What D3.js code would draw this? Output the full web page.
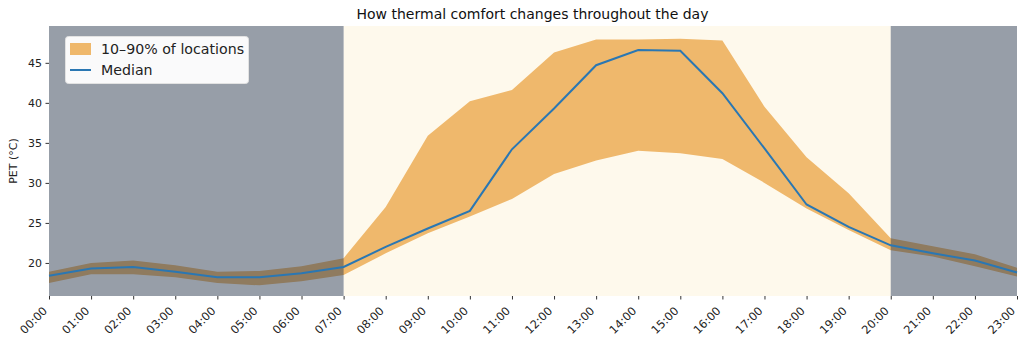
<!DOCTYPE html>
<html><head><meta charset="utf-8">
<script src="https://cdn.jsdelivr.net/npm/d3@7"></script>
<style>body{margin:0;background:#fff;} svg{display:block;font-family:"DejaVu Sans",sans-serif;}</style>
</head><body>
<svg id="c" width="1024" height="346"></svg>
<script>
const hours = ["00:00","01:00","02:00","03:00","04:00","05:00","06:00","07:00","08:00","09:00","10:00","11:00","12:00","13:00","14:00","15:00","16:00","17:00","18:00","19:00","20:00","21:00","22:00","23:00"];
const median = [18.4,19.3,19.5,18.9,18.2,18.2,18.7,19.5,22.0,24.3,26.5,34.2,39.3,44.7,46.6,46.5,41.2,34.3,27.3,24.5,22.2,21.2,20.3,18.8];
const p90 = [18.9,20.0,20.3,19.7,18.9,19.0,19.6,20.6,27.0,35.9,40.2,41.6,46.3,47.9,47.9,48.0,47.8,39.5,33.2,28.7,23.1,22.1,21.1,19.4];
const p10 = [17.5,18.6,18.6,18.2,17.5,17.2,17.7,18.5,21.2,23.7,25.8,28.0,31.1,32.8,34.0,33.7,33.0,30.0,26.8,24.1,21.6,20.8,19.6,18.3];
const yTicks = [20,25,30,35,40,45];
const dayStart = 7, dayEnd = 20;
const title = "How thermal comfort changes throughout the day";
const yLabel = "PET (°C)";
const legendLabels = ["10–90% of locations","Median"];

const svg = d3.select("#c");
const L = 49, R = 1017, T = 26, B = 296;
const x = d3.scaleLinear().domain([0, 23]).range([L, R]);
const y = d3.scaleLinear().domain([15.87, 49.6]).range([B, T]);
const idx = d3.range(hours.length);

// day background
svg.append("rect").attr("x", x(dayStart)).attr("y", T).attr("width", x(dayEnd)-x(dayStart)).attr("height", B-T).attr("fill", "#fef9ec");

// band
svg.append("path").datum(idx)
  .attr("d", d3.area().x(i => x(i)).y0(i => y(p10[i])).y1(i => y(p90[i])))
  .attr("fill", "#efb86c");

// night
svg.append("rect").attr("x", x(0)).attr("y", T).attr("width", x(dayStart)-x(0)).attr("height", B-T).attr("fill", "#2f3d52").attr("fill-opacity", 0.5);
svg.append("rect").attr("x", x(dayEnd)).attr("y", T).attr("width", x(23)-x(dayEnd)).attr("height", B-T).attr("fill", "#2f3d52").attr("fill-opacity", 0.5);

// median line
svg.append("path").datum(idx)
  .attr("d", d3.line().x(i => x(i)).y(i => y(median[i])))
  .attr("fill", "none").attr("stroke", "#2a77b3").attr("stroke-width", 2);

// axes
const xAxis = d3.axisBottom(x).tickValues(idx).tickFormat(i => hours[i]).tickSize(3.5).tickPadding(3);
const gx = svg.append("g").attr("transform", `translate(0,${B})`).call(xAxis);
gx.select(".domain").remove();
gx.selectAll("line").attr("stroke", "#333");
gx.selectAll("text").attr("font-size", 11.4).attr("fill", "#222").attr("font-family", "DejaVu Sans")
  .attr("text-anchor", "end").attr("dy", null).attr("y", 0).attr("x", 0)
  .attr("transform", "translate(-1.5,15.5) rotate(-45)");

const yAxis = d3.axisLeft(y).tickValues(yTicks).tickSize(3.5).tickPadding(3.5);
const gy = svg.append("g").attr("transform", `translate(${L},0)`).call(yAxis);
gy.select(".domain").remove();
gy.selectAll("line").attr("stroke", "#333");
gy.selectAll("text").attr("font-size", 11).attr("fill", "#222").attr("font-family", "DejaVu Sans");

svg.append("text").attr("x", (L+R)/2 - 0.5).attr("y", 19).attr("text-anchor", "middle")
  .attr("font-size", 14).attr("fill", "#111").text(title);
svg.append("text").attr("transform", `translate(17,${(T+B)/2}) rotate(-90)`).attr("text-anchor", "middle")
  .attr("font-size", 11).attr("fill", "#222").text(yLabel);

// legend
const lg = svg.append("g");
lg.append("rect").attr("x", 65.5).attr("y", 36.5).attr("width", 183).attr("height", 47).attr("rx", 3)
  .attr("fill", "#fff").attr("fill-opacity", 0.95).attr("stroke", "#e2e2e2");
lg.append("rect").attr("x", 70).attr("y", 43).attr("width", 21).attr("height", 12).attr("fill", "#efb86c");
lg.append("line").attr("x1", 70).attr("x2", 91).attr("y1", 70).attr("y2", 70).attr("stroke", "#2a77b3").attr("stroke-width", 2);
lg.append("text").attr("x", 101).attr("y", 54).attr("font-size", 14.2).attr("fill", "#222").text(legendLabels[0]);
lg.append("text").attr("x", 101).attr("y", 75).attr("font-size", 14.2).attr("fill", "#222").text(legendLabels[1]);
</script>
</body></html>
